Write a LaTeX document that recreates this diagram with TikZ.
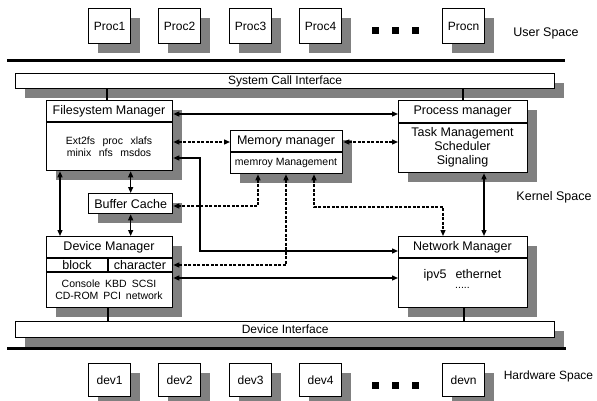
\documentclass[tikz,border=0pt]{standalone}
\usepackage{fontspec}
\setmainfont{Liberation Sans}
\usetikzlibrary{shadows,arrows.meta}
\definecolor{shadowgray}{RGB}{128,128,128}

\begin{document}
\begin{tikzpicture}[x=1pt,y=-1pt,
  box/.style={draw, line width=1.3pt, fill=white, inner sep=0pt, anchor=north west,
    drop shadow={shadow xshift=9pt, shadow yshift=-9pt, fill=shadowgray, opacity=1}},
  big/.style={font=\fontsize{12.5}{14}\selectfont},
  mid/.style={font=\fontsize{12}{14}\selectfont},
  small/.style={font=\fontsize{10.5}{12}\selectfont},
  divider/.style={line width=1.3pt},
  link/.style={line width=1.3pt, {Triangle[length=6pt,width=5pt]}-{Triangle[length=6pt,width=5pt]}},
  dlink/.style={link, dash pattern=on 3pt off 1.5pt},
  plain/.style={line width=1.3pt},
  rule/.style={line width=3pt},
  dot/.style={fill=black, minimum size=7pt, inner sep=0pt}
]
\useasboundingbox (0,0) rectangle (597,401);

% ---------------- user space ----------------
\foreach \x/\t/\n in {88/Proc1/p1, 158/Proc2/p2, 229/Proc3/p3, 299/Proc4/p4, 442/Procn/pn}
  \node[box, mid, minimum width=42pt, minimum height=35pt] (\n) at (\x,8) {\t};
\node[dot] (ud1) at (375.5,30.5) {};
\node[dot] (ud2) at (395.5,30.5) {};
\node[dot] (ud3) at (415.5,30.5) {};
\node[big] (ulabel) at (546,33) {User Space};
\draw[rule] (7,61) -- (565,61);

% ---------------- kernel space ----------------
\node[box, mid, minimum width=539pt, minimum height=15pt] (sci) at (15,73) {System Call Interface};

% filesystem manager
\node[box, minimum width=126pt, minimum height=70pt] (fsm) at (46,100) {};
\draw[divider] (fsm.west |- 0,122) -- (fsm.east |- 0,122);
\node[big] (fsmt) at (109,111) {Filesystem Manager};
\node[small, align=center] (fsmb) at (109,146.5)
  {Ext2fs\hspace{7.5pt}proc\hspace{7.5pt}xlafs\\minix\hspace{7.5pt}nfs\hspace{7.5pt}msdos};

% memory manager
\node[box, minimum width=112pt, minimum height=43pt] (mem) at (230,130) {};
\draw[divider] (mem.west |- 0,152) -- (mem.east |- 0,152);
\node[big] (memt) at (286,141) {Memory manager};
\node[small] (memb) at (286,162.5) {memroy Management};

% process manager
\node[box, minimum width=129pt, minimum height=72pt] (pm) at (398,100) {};
\draw[divider] (pm.west |- 0,123) -- (pm.east |- 0,123);
\node[big] (pmt) at (462.5,111.5) {Process manager};
\node[big, align=center] (pmb) at (462.5,147.5) {Task Management\\Scheduler\\Signaling};

% buffer cache
\node[box, big, minimum width=84pt, minimum height=20pt] (buf) at (88,193) {Buffer Cache};

% device manager
\node[box, minimum width=126pt, minimum height=71pt] (dev) at (46,236) {};
\draw[divider] (dev.west |- 0,258) -- (dev.east |- 0,258);
\draw[divider] (dev.west |- 0,272) -- (dev.east |- 0,272);
\draw[divider] (108,258) -- (108,272);
\node[big] (devt) at (109,247) {Device Manager};
\node[big] (devblk) at (77,265) {block};
\node[big] (devchr) at (140,265) {character};
\node[small, align=center] (devb) at (109,290)
  {Console\hspace{5pt}KBD\hspace{5pt}SCSI\\CD-ROM\hspace{5pt}PCI\hspace{5pt}network};

% network manager
\node[box, minimum width=129pt, minimum height=71pt] (net) at (398,236) {};
\draw[divider] (net.west |- 0,258) -- (net.east |- 0,258);
\node[big] (nett) at (462.5,247) {Network Manager};
\node[big] (netb) at (462.5,275) {ipv5\hspace{9pt}ethernet};
\node[small] (netd) at (462.5,288) {.....};

\node[big] (klabel) at (554,197) {Kernel Space};

\node[box, mid, minimum width=539pt, minimum height=16pt] (dif) at (15,321) {Device Interface};

% interface attachments
\draw[plain] (sci.south -| 107,0) -- (fsm.north -| 107,0);
\draw[plain] (sci.south -| 463,0) -- (pm.north -| 463,0);
\draw[plain] (dev.south -| 108,0) -- (dif.north -| 108,0);
\draw[plain] (net.south -| 464,0) -- (dif.north -| 464,0);

% connections between managers
\draw[link] (fsm.east |- 0,114) -- (pm.west |- 0,114);
\draw[dlink] (fsm.east |- 0,142) -- (mem.west |- 0,142);
\draw[dlink] (mem.east |- 0,142) -- (pm.west |- 0,142);
\draw[link] (buf.north) -- (buf.north |- fsm.south);
\draw[link] (buf.south) -- (buf.south |- dev.north);
\draw[link] (60,0 |- fsm.south) -- (60,0 |- dev.north);
\draw[link] (fsm.east |- 0,158) -| (200,251) -- (net.west |- 0,251);
\draw[dlink] (mem.south -| 258,0) |- (buf.east |- 0,206);
\draw[dlink] (mem.south -| 286,0) |- (dev.east |- 0,265);
\draw[dlink] (mem.south -| 314,0) |- (443,207) -- (net.north -| 443,0);
\draw[link] (pm.south -| 484,0) -- (net.north -| 484,0);
\draw[link] (dev.east |- 0,278) -- (net.west |- 0,278);

\draw[rule] (7,348) -- (566,348);

% ---------------- hardware space ----------------
\foreach \x/\t/\n in {88/dev1/d1, 158/dev2/d2, 229/dev3/d3, 299/dev4/d4, 442/devn/dn}
  \node[box, mid, minimum width=42pt, minimum height=33pt] (\n) at (\x,363) {\t};
\node[dot] (hd1) at (375.5,385) {};
\node[dot] (hd2) at (395.5,385) {};
\node[dot] (hd3) at (415.5,385) {};
\node[mid] (hlabel) at (548.5,376) {Hardware Space};
\end{tikzpicture}
\end{document}
